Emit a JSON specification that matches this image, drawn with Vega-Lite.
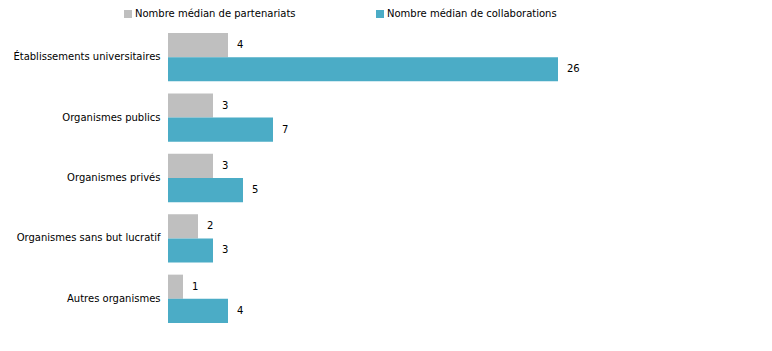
{
  "$schema": "https://vega.github.io/schema/vega-lite/v6.json",
  "width": 600,
  "height": 302,
  "autosize": {"type": "none"},
  "padding": {"left": 168, "top": 27, "right": 4, "bottom": 22},
  "background": "white",
  "config": {
    "view": {"stroke": null},
    "font": "DejaVu Sans",
    "axis": {"labelFont": "DejaVu Sans", "labelFontSize": 10, "labelColor": "#000000"},
    "legend": {"labelFont": "DejaVu Sans", "labelFontSize": 10, "labelColor": "#000000"}
  },
  "data": {
    "values": [
      {"categorie": "Établissements universitaires", "serie": "Nombre médian de partenariats", "ordre": 1, "valeur": 4},
      {"categorie": "Établissements universitaires", "serie": "Nombre médian de collaborations", "ordre": 2, "valeur": 26},
      {"categorie": "Organismes publics", "serie": "Nombre médian de partenariats", "ordre": 1, "valeur": 3},
      {"categorie": "Organismes publics", "serie": "Nombre médian de collaborations", "ordre": 2, "valeur": 7},
      {"categorie": "Organismes privés", "serie": "Nombre médian de partenariats", "ordre": 1, "valeur": 3},
      {"categorie": "Organismes privés", "serie": "Nombre médian de collaborations", "ordre": 2, "valeur": 5},
      {"categorie": "Organismes sans but lucratif", "serie": "Nombre médian de partenariats", "ordre": 1, "valeur": 2},
      {"categorie": "Organismes sans but lucratif", "serie": "Nombre médian de collaborations", "ordre": 2, "valeur": 3},
      {"categorie": "Autres organismes", "serie": "Nombre médian de partenariats", "ordre": 1, "valeur": 1},
      {"categorie": "Autres organismes", "serie": "Nombre médian de collaborations", "ordre": 2, "valeur": 4}
    ]
  },
  "encoding": {
    "y": {
      "field": "categorie",
      "type": "nominal",
      "sort": null,
      "scale": {"paddingInner": 0.2, "paddingOuter": 0.1},
      "axis": {"title": null, "domain": false, "ticks": false, "labelPadding": 8, "labelLimit": 200}
    },
    "yOffset": {"field": "serie", "type": "nominal", "sort": ["Nombre médian de partenariats", "Nombre médian de collaborations"]},
    "x": {
      "field": "valeur",
      "type": "quantitative",
      "scale": {"domain": [0, 40]},
      "axis": null
    }
  },
  "layer": [
    {
      "mark": {"type": "bar"},
      "encoding": {
        "color": {
          "field": "serie",
          "type": "nominal",
          "sort": ["Nombre médian de partenariats", "Nombre médian de collaborations"],
          "scale": {"domain": ["Nombre médian de partenariats", "Nombre médian de collaborations"], "range": ["#BFBFBF", "#4BACC6"]},
          "legend": {
            "title": null,
            "orient": "none",
            "direction": "horizontal",
            "legendX": -45,
            "legendY": -18,
            "symbolType": "square",
            "symbolSize": 64,
            "symbolStrokeWidth": 0,
            "labelOffset": 2,
            "labelLimit": 300,
            "columnPadding": 79
          }
        }
      }
    },
    {
      "mark": {"type": "text", "align": "left", "baseline": "middle", "dx": 9, "fontSize": 10, "color": "#000000"},
      "encoding": {"text": {"field": "valeur", "type": "quantitative"}}
    }
  ]
}
